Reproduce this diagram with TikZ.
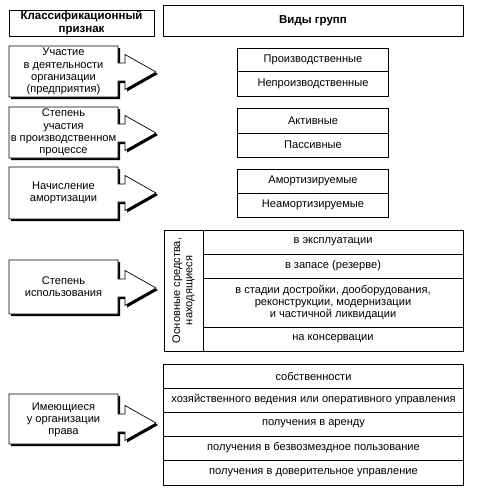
\documentclass[tikz,border=0pt]{standalone}
\usepackage{fontspec}
\setmainfont{Liberation Sans}
\newcommand\arrowbox[3]{%
  \fill[shift={(2pt,-2pt)}] (9,#1) -- (118,#1) -- (118,{#3-9}) -- (125,{#3-9}) -- (125,{#3-17.5}) -- (156,#3) -- (125,{#3+17.5}) -- (125,{#3+9}) -- (118,{#3+9}) -- (118,#2) -- (9,#2) -- cycle;
  \filldraw[fill=white, line width=0.7pt, line join=miter] (9,#1) -- (118,#1) -- (118,{#3-9}) -- (125,{#3-9}) -- (125,{#3-17.5}) -- (156,#3) -- (125,{#3+17.5}) -- (125,{#3+9}) -- (118,{#3+9}) -- (118,#2) -- (9,#2) -- cycle;
}
\tikzset{
  txt/.style={align=center, inner sep=0pt, font=\fontsize{11.1}{12.2}\selectfont},
  cell/.style={draw, line width=0.7pt, inner sep=0pt, align=center, font=\fontsize{11.1}{12.2}\selectfont},
  hdr/.style={cell, font=\fontsize{11.5}{12.5}\selectfont\bfseries},
}
\begin{document}
\begin{tikzpicture}[x=1pt,y=-1pt]
\useasboundingbox (0,0) rectangle (479,490);
% headers
\node[hdr, minimum width=145pt, minimum height=26pt] (h1) at (81.5,23) {Классификационный\\признак};
\node[hdr, minimum width=300pt, minimum height=31pt] (h2) at (313,20.5) {Виды групп};
% left boxes with arrows
\arrowbox{46}{97}{72}
\arrowbox{107}{158}{133}
\arrowbox{167}{219}{193}
\arrowbox{260}{314}{288}
\arrowbox{394}{444}{423}
\node[txt] (l1) at (63.5,71.5) {Участие\\в деятельности\\организации\\(предприятия)};
\node[txt] (l2) at (63.5,132.5) {Степень\\участия\\в производственном\\процессе};
\node[txt] (l3) at (63.5,193) {Начисление\\амортизации};
\node[txt] (l4) at (63.5,287) {Степень\\использования};
\node[txt] (l5) at (63.5,420) {Имеющиеся\\у организации\\права};
% group 1
\node[cell, minimum width=151pt, minimum height=23pt] (g1a) at (313,59.5) {Производственные};
\node[cell, minimum width=151pt, minimum height=25pt] (g1b) at (313,83.5) {Непроизводственные};
% group 2
\node[cell, minimum width=151pt, minimum height=25pt] (g2a) at (313,120.5) {Активные};
\node[cell, minimum width=151pt, minimum height=24pt] (g2b) at (313,145) {Пассивные};
% group 3
\node[cell, minimum width=151pt, minimum height=24pt] (g3a) at (313,181) {Амортизируемые};
\node[cell, minimum width=151pt, minimum height=24pt] (g3b) at (313,205) {Неамортизируемые};
% group 4
\node[cell, minimum width=121pt, minimum height=39pt, rotate=90] (g4v) at (183.5,290.5) {Основные средства,\\находящиеся};
\node[cell, minimum width=260pt, minimum height=24pt] (g4a) at (333,242) {в эксплуатации};
\node[cell, minimum width=260pt, minimum height=24pt] (g4b) at (333,266) {в запасе (резерве)};
\node[cell, minimum width=260pt, minimum height=49pt] (g4c) at (333,302.5) {в стадии достройки, дооборудования,\\реконструкции, модернизации\\и частичной ликвидации};
\node[cell, minimum width=260pt, minimum height=24pt] (g4d) at (333,339) {на консервации};
% group 5
\node[cell, minimum width=300pt, minimum height=24pt] (g5a) at (313.5,376) {собственности};
\node[cell, minimum width=300pt, minimum height=24pt] (g5b) at (313.5,400) {хозяйственного ведения или оперативного управления};
\node[cell, minimum width=300pt, minimum height=24pt] (g5c) at (313.5,424) {получения в аренду};
\node[cell, minimum width=300pt, minimum height=24pt] (g5d) at (313.5,448) {получения в безвозмездное пользование};
\node[cell, minimum width=300pt, minimum height=25pt] (g5e) at (313.5,472.5) {получения в доверительное управление};
\end{tikzpicture}
\end{document}
